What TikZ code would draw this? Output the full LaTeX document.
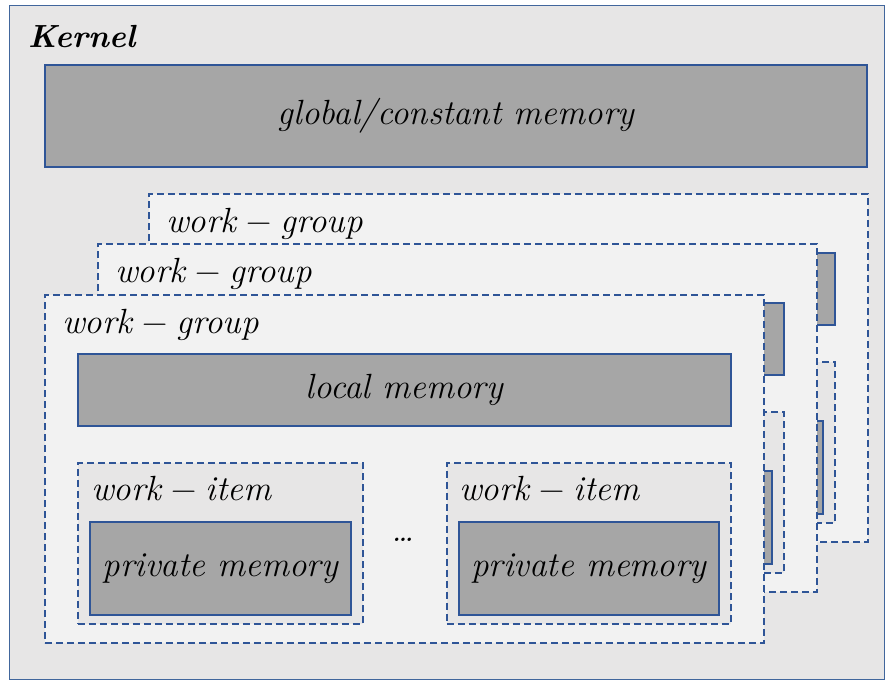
\documentclass[tikz,border=0pt]{standalone}
\usepackage{fontspec}
\definecolor{bord}{RGB}{47,85,151}
\definecolor{kbord}{RGB}{65,102,156}
\definecolor{kfill}{RGB}{231,230,230}
\definecolor{gfill}{RGB}{242,242,242}
\definecolor{mfill}{RGB}{166,166,166}
\newcommand{\mns}{\hspace{0.25em}\textup{−}\hspace{0.25em}}
\tikzset{
  txt/.style={font=\fontsize{35}{40}\selectfont\itshape, text=black},
  kbox/.style={draw=kbord, line width=1.2pt, fill=kfill, anchor=north west, inner sep=0pt},
  mem/.style={draw=bord, line width=1.6pt, fill=mfill, anchor=north west, inner sep=0pt, txt},
  wgbox/.style={draw=bord, line width=1.5pt, dash pattern=on 7pt off 4pt, fill=gfill, anchor=north west, inner sep=0pt},
  wibox/.style={draw=bord, line width=1.5pt, dash pattern=on 7pt off 4pt, fill=kfill, anchor=north west, inner sep=0pt},
  lbl/.style={txt, anchor=base west, inner sep=0pt},
}
\begin{document}
\begin{tikzpicture}[x=1pt, y=-1pt]
\useasboundingbox (0,0) rectangle (894,685);
\fill[white] (0,0) rectangle (894,685);
% kernel
\node[kbox, minimum width=875pt, minimum height=674pt] (kernel) at (9,5) {};
\node[anchor=base west, inner sep=0pt, font=\fontsize{32}{36}\selectfont\bfseries\itshape] (klabel) at (28,48) {Kernel};
\node[mem, minimum width=822pt, minimum height=102pt] (global) at (44,64) {global/constant memory};
% work-groups, back to front
\foreach \i/\dx/\dy in {3/104/-101, 2/53/-51, 1/0/0} {
  \begin{scope}[shift={(\dx,\dy)}]
    \node[wgbox, minimum width=719pt, minimum height=348pt] (wg\i) at (44,294) {};
    \node[lbl] (wgl\i) at (62,333) {work\mns group};
    \node[mem, minimum width=653pt, minimum height=72pt] (local\i) at (77,353) {local memory};
    \node[wibox, minimum width=285pt, minimum height=161pt] (wiL\i) at (77,462) {};
    \node[lbl] (wiLl\i) at (91,500) {work\mns item};
    \node[mem, minimum width=261pt, minimum height=93pt] (privL\i) at (89,521) {private memory};
    \node[txt, inner sep=0pt] (dots\i) at (403,540) {…};
    \node[wibox, minimum width=284pt, minimum height=161pt] (wiR\i) at (446,462) {};
    \node[lbl] (wiRl\i) at (459,500) {work\mns item};
    \node[mem, minimum width=260pt, minimum height=93pt] (privR\i) at (458,521) {private memory};
  \end{scope}
}
\end{tikzpicture}
\end{document}
